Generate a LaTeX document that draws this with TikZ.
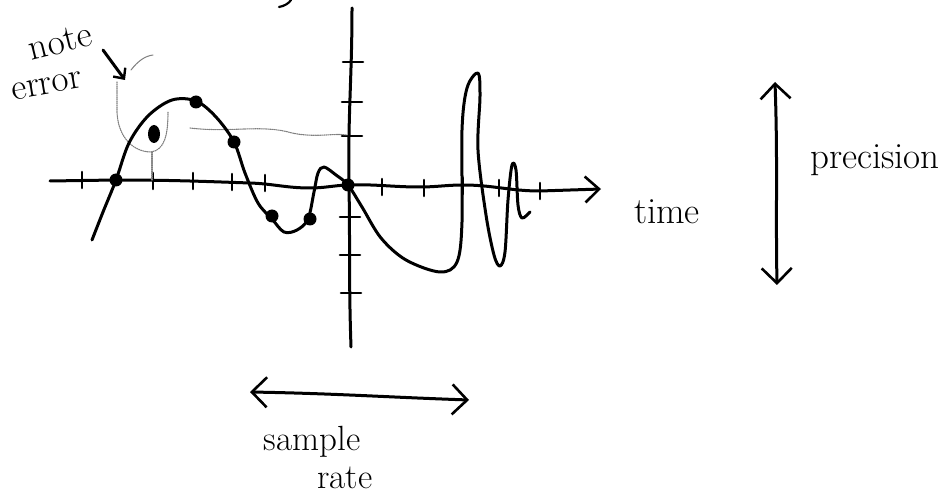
\documentclass[tikz,border=0pt]{standalone}
\usetikzlibrary{arrows.meta,shapes.geometric}
\begin{document}
\begin{tikzpicture}[x=1pt,y=-1pt,
  ink/.style={line width=3pt, line cap=round, line join=round},
  tickmark/.style={line width=2.6pt, line cap=round},
  pencil/.style={black!50, line width=1.1pt, densely dotted, line cap=round},
  pencilsolid/.style={black!50, line width=1pt, line cap=round},
  sampledot/.style={circle, fill=black, inner sep=0pt, minimum size=13pt},
  errdot/.style={ellipse, fill=black, inner sep=0pt, minimum width=12pt, minimum height=18pt},
  hand/.style={font=\fontsize{37}{39}\selectfont, inner sep=0pt},
  handsmall/.style={font=\fontsize{35}{37}\selectfont, inner sep=0pt},
  barbend/.style={-{Straight Barb[length=14pt,width=26pt,line width=2.6pt]}},
  barbboth/.style={{Straight Barb[length=15pt,width=30pt,line width=2.6pt]}-{Straight Barb[length=15pt,width=30pt,line width=2.6pt]}},
  smallbarb/.style={-{Straight Barb[length=8pt,width=15pt,line width=2.4pt]}}
]
\useasboundingbox (0,0) rectangle (946,497);
\fill[white] (0,0) rectangle (946,497);

% ---------- axes ----------
\coordinate (haxL) at (50,181);
\coordinate (haxR) at (601,189);
\coordinate (vaxT) at (352,8);
\coordinate (vaxB) at (351,347);

\draw[ink,barbend] (haxL) -- (115,180) to[out=0,in=178] (250,183)
  to[out=-2,in=180] (310,188) to[out=0,in=182] (348,185)
  to[out=2,in=180] (420,187) to[out=0,in=180] (463,185)
  to[out=0,in=180] (540,191) -- (haxR);
\draw[ink] (vaxT) to[out=-90,in=91] (349,185) to[out=-89,in=92] (vaxB);

% horizontal ticks
\foreach \x/\y in {82/180,153/181,193/181,232/182,265/183,382/187,424/188,463/186,499/188,540/191}
  \draw[tickmark] (\x,\y-8) -- (\x,\y+8);
% vertical ticks
\foreach \y/\x in {62/353,102/352,136/352,217/350,255/350,293/351}
  \draw[tickmark] (\x-10,\y) -- (\x+10,\y);

% ---------- pencil annotations ----------
\draw[pencil] (190,128) .. controls (230,133) and (262,124) .. (292,133)
  .. controls (316,138) and (332,133) .. (347,135);
\draw[pencil] (117,82) -- (117,112) .. controls (118,138) and (134,152) .. (151,152)
  .. controls (165,150) and (168,134) .. (168,112);
\draw[pencil] (152,152) -- (152,180);
\draw[pencilsolid] (131,70) .. controls (138,61) and (145,56) .. (153,55);

% ---------- signal ----------
\draw[ink] plot[smooth, tension=0.55] coordinates {
  (92,240) (103,212) (116,180) (129,143) (148,116) (172,100) (196,101)
  (216,117) (234,142) (245,173) (258,203) (272,219) (284,232) (297,230)
  (308,219) (314,192) (318,173) (324,167) (336,175) (348,185) (362,207)
  (381,238) (406,260) (440,272) (457,262) (462,222) (462,130) (467,88)
  (478,73) (480,96) (478,150) (486,215) (494,255) (500,266) (505,252)
  (508,200) (512,165) (516,170) (518,205) (522,218) (530,212)};

% sample dots
\node[sampledot] (s1) at (116,180) {};
\node[errdot]    (s2) at (154,134) {};
\node[sampledot] (s3) at (196,102) {};
\node[sampledot] (s4) at (234,142) {};
\node[sampledot] (s5) at (272,216) {};
\node[sampledot] (s6) at (310,219) {};
\node[sampledot] (o)  at (348,185) {};

% small stroke at the top edge
\draw[ink,line width=2.2pt] (279,7) .. controls (285,6) and (289,3) .. (291,0);

% ---------- labels ----------
\node[hand, rotate=14] (note) at (60,42) {note};
\node[hand, rotate=10] (error) at (47,86) {error};
\coordinate (neS) at (103,50);
\coordinate (neE) at (125,80);
\draw[ink,smallbarb] (neS) -- (neE);

\node[hand] (time) at (667,212) {time};

\coordinate (precT) at (775,82);
\coordinate (precB) at (777,285);
\draw[ink,barbboth] (precT) to[out=-88,in=91] (precB);
\node[hand] (precision) at (875,160) {precision};

\coordinate (srL) at (250,392);
\coordinate (srR) at (469,400);
\draw[ink,barbboth] (srL) to[out=-1,in=178] (srR);
\node[handsmall] (sample) at (312,442) {sample};
\node[handsmall] (rate) at (345,478) {rate};
\end{tikzpicture}
\end{document}
